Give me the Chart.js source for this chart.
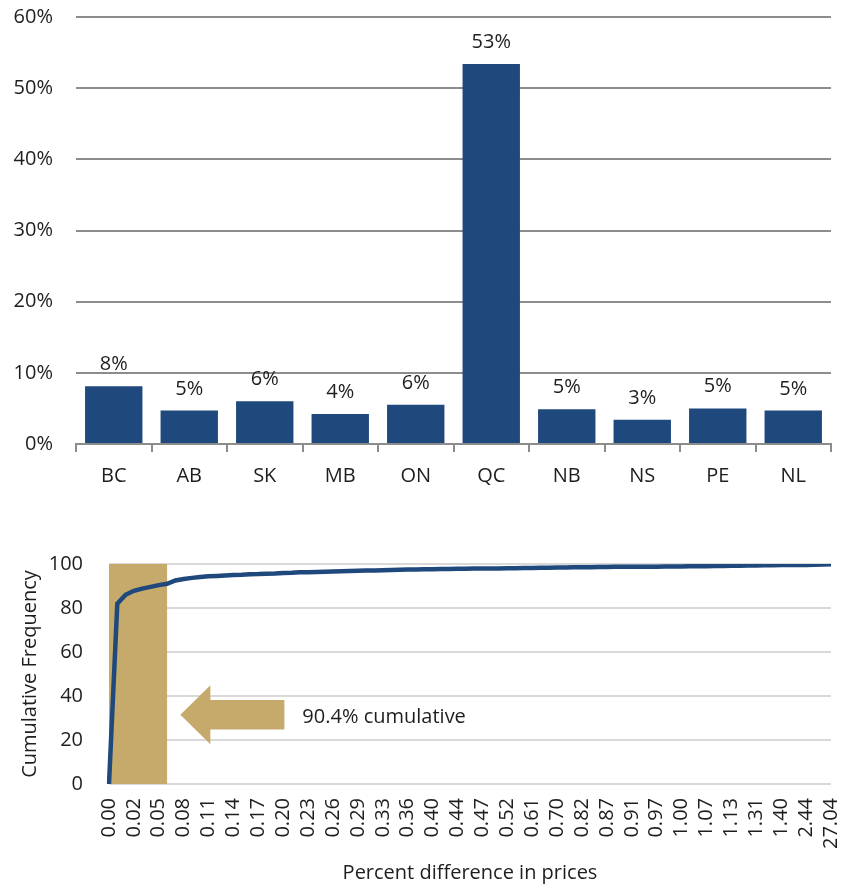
<!DOCTYPE html>
<html>
<head>
<meta charset="utf-8">
<script src="https://cdn.jsdelivr.net/npm/chart.js@4.4.1/dist/chart.umd.min.js"></script>
<style>
  html, body { margin: 0; padding: 0; background: #ffffff; }
  body { width: 849px; height: 891px; position: relative; overflow: hidden; }
  canvas { position: absolute; left: 0; }
  #top { top: 0; }
  #bottom { top: 530px; }
</style>
</head>
<body>
<canvas id="top" width="849" height="500"></canvas>
<canvas id="bottom" width="849" height="361"></canvas>
<script>
// ---- Top panel data ----
const provinces = ['BC', 'AB', 'SK', 'MB', 'ON', 'QC', 'NB', 'NS', 'PE', 'NL'];
const provinceShares = [8.1, 4.7, 6.0, 4.2, 5.5, 53.4, 4.9, 3.4, 5.0, 4.7];
const shareTicks = [0, 10, 20, 30, 40, 50, 60];

// ---- Bottom panel data ----
const priceDiffTickLabels = ['0.00', '0.02', '0.05', '0.08', '0.11', '0.14', '0.17', '0.20', '0.23', '0.26',
  '0.29', '0.33', '0.36', '0.40', '0.44', '0.47', '0.52', '0.61', '0.70', '0.82',
  '0.87', '0.91', '0.97', '1.00', '1.07', '1.13', '1.31', '1.40', '2.44', '27.04'];
const cumulativeFrequency = [
  0, 82.0, 86.0, 87.8, 88.8, 89.6, 90.4, 91.0, 92.5, 93.2,
  93.7, 94.1, 94.4, 94.6, 94.8, 95.0, 95.1, 95.3, 95.4, 95.6,
  95.7, 95.9, 96.0, 96.2, 96.3, 96.4, 96.5, 96.6, 96.7, 96.8,
  96.9, 97.0, 97.1, 97.2, 97.3, 97.4, 97.5, 97.5, 97.6, 97.6,
  97.7, 97.7, 97.8, 97.8, 97.9, 97.9, 98.0, 98.0, 98.1, 98.1,
  98.2, 98.2, 98.3, 98.3, 98.4, 98.4, 98.5, 98.5, 98.5, 98.6,
  98.6, 98.7, 98.7, 98.7, 98.8, 98.8, 98.8, 98.9, 98.9, 98.9,
  99.0, 99.0, 99.0, 99.1, 99.1, 99.2, 99.2, 99.3, 99.3, 99.4,
  99.4, 99.5, 99.5, 99.6, 99.6, 99.7, 99.8, 99.9];
const labelEvery = 3;
const highlightRange = [0, 7];      // category index span of shaded band
const highlightText = '90.4% cumulative';

const FONT = '"Open Sans", "Noto Sans", sans-serif';
const FS = 20;
const TEXT = '#1e1e1e';
const NAVY = '#1F497D';
const TAN = '#C5AA6B';

// ---- Top chart ----
const barLabelPlugin = {
  id: 'barLabels',
  afterDatasetsDraw(chart) {
    const ctx = chart.ctx;
    const meta = chart.getDatasetMeta(0);
    ctx.save();
    ctx.font = FS + 'px ' + FONT;
    ctx.fillStyle = TEXT;
    ctx.textAlign = 'center';
    ctx.textBaseline = 'alphabetic';
    meta.data.forEach((bar, i) => {
      ctx.fillText(Math.round(provinceShares[i]) + '%', bar.x, bar.y - 16);
    });
    ctx.restore();
  }
};

new Chart(document.getElementById('top'), {
  type: 'bar',
  data: {
    labels: provinces,
    datasets: [{
      data: provinceShares,
      backgroundColor: NAVY,
      borderWidth: 0,
      categoryPercentage: 0.76,
      barPercentage: 1.0
    }]
  },
  options: {
    responsive: false,
    animation: false,
    devicePixelRatio: 1,
    layout: { padding: { left: 0, right: 18, top: 17, bottom: 0 } },
    plugins: { legend: { display: false }, tooltip: { enabled: false } },
    scales: {
      x: {
        offset: true,
        grid: { display: true, drawOnChartArea: false, drawTicks: true, tickLength: 8, color: '#8c8c8c', lineWidth: 2, offset: true },
        border: { display: true, color: '#8c8c8c', width: 2 },
        ticks: { color: TEXT, font: { family: FONT, size: FS }, padding: 12, maxRotation: 0 },
        afterFit(s) { s.height = 56; s.paddingLeft = 0; s.paddingRight = 0; }
      },
      y: {
        min: 0, max: 60,
        afterBuildTicks(s) { s.ticks = shareTicks.map(v => ({ value: v })); },
        grid: { color: '#8c8c8c', lineWidth: 2, drawTicks: false },
        border: { display: false },
        ticks: { color: TEXT, font: { family: FONT, size: FS }, padding: 23, callback: v => v + '%' },
        afterFit(s) { s.width = 76; s.paddingTop = 0; s.paddingBottom = 0; }
      }
    }
  },
  plugins: [barLabelPlugin]
});

// ---- Bottom chart ----
const xLabels = cumulativeFrequency.map((_, i) => (i % labelEvery === 0 ? priceDiffTickLabels[i / labelEvery] : ''));

const annotationPlugin = {
  id: 'highlight',
  beforeDatasetsDraw(chart) {
    const { ctx, scales: { x, y } } = chart;
    ctx.save();
    // shaded band
    const x0 = x.getPixelForValue(highlightRange[0]);
    const x1 = x.getPixelForValue(highlightRange[1]);
    const yTop = y.getPixelForValue(100);
    const yBot = y.getPixelForValue(0);
    ctx.fillStyle = TAN;
    ctx.fillRect(x0, yTop, x1 - x0, yBot - yTop);
    // arrow
    const tipX = x.getPixelForValue(8.6);
    const tipY = y.getPixelForValue(31.5);
    const headLen = 30, headHalf = 29.5, shaftHalf = 14.7, totalLen = 104;
    ctx.beginPath();
    ctx.moveTo(tipX, tipY);
    ctx.lineTo(tipX + headLen, tipY - headHalf);
    ctx.lineTo(tipX + headLen, tipY - shaftHalf);
    ctx.lineTo(tipX + totalLen, tipY - shaftHalf);
    ctx.lineTo(tipX + totalLen, tipY + shaftHalf);
    ctx.lineTo(tipX + headLen, tipY + shaftHalf);
    ctx.lineTo(tipX + headLen, tipY + headHalf);
    ctx.closePath();
    ctx.fill();
    // text
    ctx.fillStyle = TEXT;
    ctx.font = FS + 'px ' + FONT;
    ctx.textAlign = 'left';
    ctx.textBaseline = 'middle';
    ctx.fillText(highlightText, tipX + 122, tipY + 3);
    ctx.restore();
  }
};

new Chart(document.getElementById('bottom'), {
  type: 'line',
  data: {
    labels: xLabels,
    datasets: [{
      data: cumulativeFrequency,
      borderColor: NAVY,
      borderWidth: 4.5,
      pointRadius: 0,
      tension: 0,
      fill: false
    }]
  },
  options: {
    responsive: false,
    animation: false,
    devicePixelRatio: 1,
    layout: { padding: { left: 0, right: 18, top: 34, bottom: 0 } },
    plugins: { legend: { display: false }, tooltip: { enabled: false } },
    scales: {
      x: {
        offset: false,
        grid: { display: false },
        border: { display: false },
        ticks: {
          autoSkip: false, minRotation: 90, maxRotation: 90,
          color: TEXT, font: { family: FONT, size: FS }, padding: 6
        },
        title: { display: true, text: 'Percent difference in prices', color: TEXT, font: { family: FONT, size: FS }, padding: { top: 4, bottom: 6 } },
        afterFit(s) { s.height = 107; s.paddingLeft = 0; s.paddingRight = 0; }
      },
      y: {
        min: 0, max: 100,
        ticks: { stepSize: 20, color: TEXT, font: { family: FONT, size: FS }, padding: 26 },
        grid: { color: '#d9d9d9', lineWidth: 2, drawTicks: false },
        border: { display: false },
        title: { display: true, text: 'Cumulative Frequency', color: TEXT, font: { family: FONT, size: FS }, padding: { top: 18, bottom: 0 } },
        afterFit(s) { s.width = 109; s.paddingTop = 0; s.paddingBottom = 0; }
      }
    }
  },
  plugins: [annotationPlugin]
});
</script>
</body>
</html>
